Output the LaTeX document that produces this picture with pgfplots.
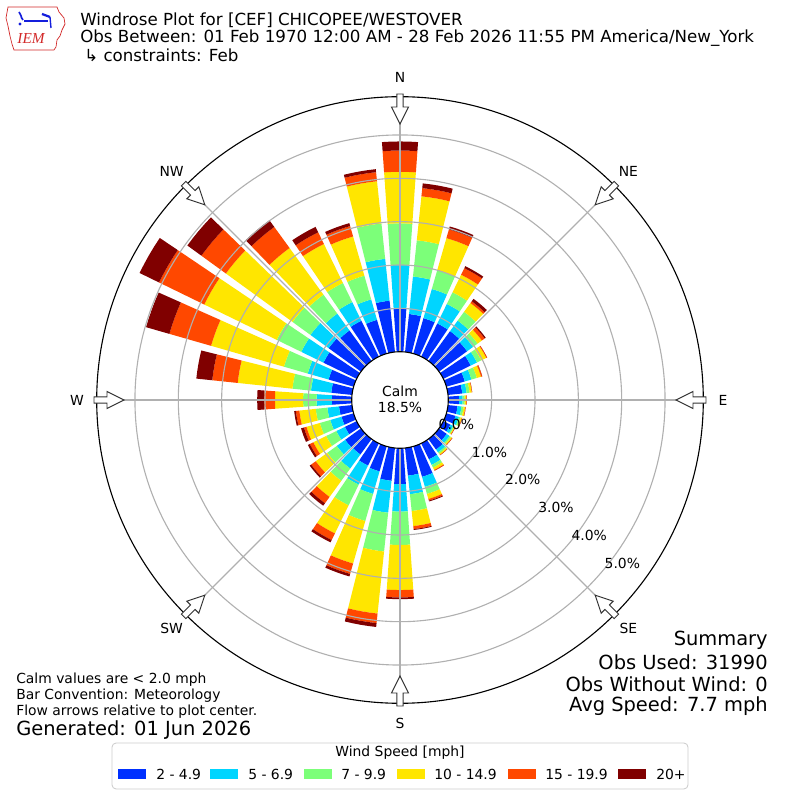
\documentclass[border=0pt]{standalone}
\usepackage{fontspec}
\setmainfont{DejaVu Sans}
\newfontfamily\logofont{Liberation Serif}
\usepackage{pgfplots}
\usepackage{pgfplotstable}
\pgfplotsset{compat=1.18}
\definecolor{c1}{RGB}{0,48,255}
\definecolor{c2}{RGB}{0,213,255}
\definecolor{c3}{RGB}{124,255,121}
\definecolor{c4}{RGB}{255,230,0}
\definecolor{c5}{RGB}{255,72,0}
\definecolor{c6}{RGB}{128,0,0}
\definecolor{gridc}{RGB}{176,176,176}
\definecolor{iemred}{RGB}{210,40,40}
\definecolor{iemblue}{RGB}{20,30,220}

% cumulative percent of observations, per direction, per speed bin
\pgfplotstableread{
dir a b c d e f
0   1.00 2.00 2.96 4.15 4.64 4.85
10  0.88 1.75 2.59 3.61 3.80 3.91
20  0.85 1.55 2.00 2.77 2.98 3.05
30  0.85 1.35 1.65 2.10 2.27 2.32
40  0.85 1.15 1.40 1.65 1.70 1.77
50  0.80 0.97 1.10 1.22 1.30 1.33
60  0.70 0.86 0.97 1.10 1.12 1.12
70  0.44 0.60 0.73 0.83 0.86 0.86
80  0.33 0.43 0.50 0.55 0.56 0.56
90  0.25 0.33 0.38 0.42 0.43 0.43
100 0.22 0.31 0.36 0.40 0.41 0.41
110 0.22 0.30 0.34 0.37 0.38 0.38
120 0.18 0.25 0.28 0.30 0.31 0.31
130 0.22 0.30 0.34 0.37 0.38 0.38
140 0.30 0.38 0.42 0.45 0.46 0.46
150 0.41 0.55 0.62 0.68 0.70 0.70
160 0.73 0.97 1.14 1.26 1.30 1.32
170 0.64 1.07 1.46 1.81 1.88 1.90
180 0.83 1.46 2.23 3.27 3.44 3.48
190 0.76 1.50 2.40 3.84 4.06 4.15
200 0.60 1.14 1.79 2.81 3.06 3.12
210 0.57 1.06 1.59 2.31 2.48 2.54
220 0.44 0.84 1.19 1.65 1.83 1.90
230 0.45 0.69 0.96 1.29 1.42 1.46
240 0.30 0.52 0.78 1.11 1.20 1.25
250 0.29 0.56 0.81 1.13 1.19 1.26
260 0.30 0.57 0.84 1.22 1.30 1.34
270 0.46 0.81 1.12 1.77 2.02 2.18
280 0.48 0.95 1.38 2.65 3.24 3.61
290 0.60 1.10 1.67 3.42 4.42 4.98
300 0.85 1.42 2.05 3.91 5.07 5.57
310 0.92 1.44 1.95 3.85 4.55 4.95
320 0.87 1.35 1.89 3.22 3.82 4.01
330 0.92 1.40 1.89 2.89 3.19 3.33
340 0.81 1.30 1.87 2.81 3.06 3.13
350 1.19 2.16 2.98 3.96 4.17 4.24
}\rosedata

\newcommand\mkpt[4]{\pgfmathsetmacro#1{400+(#3)*sin(#4)}\pgfmathsetmacro#2{400-(#3)*cos(#4)}}

\begin{document}
\begin{tikzpicture}
\begin{axis}[x=0.72pt,y=0.72pt,xmin=0,xmax=800,ymin=0,ymax=800,y dir=reverse,hide axis]
\foreach \i in {0,...,35}{%
  \pgfplotstablegetelem{\i}{dir}\of\rosedata
  \let\dirv=\pgfplotsretval
  \xdef\prevv{0}%
  \foreach \col/\clr in {a/c1,b/c2,c/c3,d/c4,e/c5,f/c6}{%
    \pgfplotstablegetelem{\i}{\col}\of\rosedata
    \let\curv=\pgfplotsretval
    \pgfmathsetmacro\ra{48.3+43.35*\prevv}%
    \pgfmathsetmacro\rb{48.3+43.35*\curv}%
    \mkpt\xA\yA\rb{\dirv-4}\mkpt\xB\yB\rb{\dirv-2}\mkpt\xC\yC\rb{\dirv}%
    \mkpt\xD\yD\rb{\dirv+2}\mkpt\xE\yE\rb{\dirv+4}%
    \mkpt\xF\yF\ra{\dirv+4}\mkpt\xG\yG\ra{\dirv+2}\mkpt\xH\yH\ra{\dirv}%
    \mkpt\xI\yI\ra{\dirv-2}\mkpt\xJ\yJ\ra{\dirv-4}%
    \edef\cmd{\noexpand\addplot[draw=none,fill=\clr] coordinates {(\xA,\yA) (\xB,\yB) (\xC,\yC) (\xD,\yD) (\xE,\yE) (\xF,\yF) (\xG,\yG) (\xH,\yH) (\xI,\yI) (\xJ,\yJ)} -- cycle;}%
    \cmd
    \xdef\prevv{\curv}%
  }%
}
\coordinate (O) at (axis cs:0,0);
\end{axis}
\begin{scope}[shift={(O)},x=0.72pt,y=-0.72pt]
\path (0,0) rectangle (800,800);
% grid
\foreach \k in {1,...,5}{\pgfmathsetmacro\rr{48.3+43.35*\k}\draw[gridc,line width=0.8pt] (400,400) circle[radius=\rr];}
\foreach \b in {0,45,...,315}{\draw[gridc,line width=0.8pt] ({400+48.3*sin(\b)},{400-48.3*cos(\b)}) -- ({400+303.3*sin(\b)},{400-303.3*cos(\b)});}
\draw[black,line width=0.8pt,fill=white] (400,400) circle[radius=48.3];
\draw[black,line width=0.8pt] (400,400) circle[radius=303.3];
% arrows
\foreach \b in {0,45,...,315}{%
\draw[fill=white,draw=black!80,line width=0.7pt,line join=miter]
 ({400+276*sin(\b)},{400-276*cos(\b)})
 -- ({400+293*sin(\b)+8.5*cos(\b)},{400-293*cos(\b)+8.5*sin(\b)})
 -- ({400+293*sin(\b)+3.2*cos(\b)},{400-293*cos(\b)+3.2*sin(\b)})
 -- ({400+306*sin(\b)+3.2*cos(\b)},{400-306*cos(\b)+3.2*sin(\b)})
 -- ({400+306*sin(\b)-3.2*cos(\b)},{400-306*cos(\b)-3.2*sin(\b)})
 -- ({400+293*sin(\b)-3.2*cos(\b)},{400-293*cos(\b)-3.2*sin(\b)})
 -- ({400+293*sin(\b)-8.5*cos(\b)},{400-293*cos(\b)-8.5*sin(\b)})
 -- cycle;}
% direction labels
\foreach \b/\l in {0/N,45/NE,90/E,135/SE,180/S,225/SW,270/W,315/NW}{%
\node[font=\fontsize{10}{12}\selectfont] at ({400+323*sin(\b)},{400-323*cos(\b)}) {\l};}
% radial labels
\foreach \k in {0,...,5}{\pgfmathsetmacro\rr{48.3+43.35*\k}%
\node[anchor=south west,inner sep=1pt,font=\fontsize{10}{12}\selectfont] at ({400+\rr*sin(130)},{400-\rr*cos(130)}) {\k.0\%};}
\node[font=\fontsize{10}{12}\selectfont] at (400,391) {Calm};
\node[font=\fontsize{10}{12}\selectfont] at (400,407) {18.5\%};
% logo
\draw[iemred,line width=0.5pt] (8,7) -- (57,7) -- (59,12) -- (64,18) -- (65,24) -- (62,30) -- (60,36) -- (57,40) -- (56,47) -- (54,50) -- (14,50) -- (12,44) -- (10,36) -- (8,26) -- (6,18) -- cycle;
\draw[iemblue,line width=1.6pt] (24,21) -- (48,21);
\draw[iemblue,line width=1.2pt] (19,12) .. controls (22,14) and (20,17) .. (23,20);
\fill[iemblue] (20,24) circle[radius=1.6];
\draw[iemblue,line width=1.6pt] (42,14) -- (50,17);
\draw[iemblue,line width=1.0pt] (50,17) -- (51,28);
\node[text=iemred,font=\logofont\itshape\fontsize{11}{12}\selectfont,inner sep=0] at (31,39) {IEM};
% title
\node[anchor=west,inner sep=0,font=\fontsize{12}{14}\selectfont] at (80,20) {Windrose Plot for [CEF] CHICOPEE/WESTOVER};
\node[anchor=west,inner sep=0,font=\fontsize{12}{14}\selectfont] at (80,38) {Obs Between: 01 Feb 1970 12:00 AM - 28 Feb 2026 11:55 PM America/New\_York};
\node[anchor=west,inner sep=0,font=\fontsize{12}{14}\selectfont] at (84,55) {↳ constraints: Feb};
% bottom left
\node[anchor=west,inner sep=0,font=\fontsize{10}{12}\selectfont] at (16,680) {Calm values are < 2.0 mph};
\node[anchor=west,inner sep=0,font=\fontsize{10}{12}\selectfont] at (16,696) {Bar Convention: Meteorology};
\node[anchor=west,inner sep=0,font=\fontsize{10}{12}\selectfont] at (16,712) {Flow arrows relative to plot center.};
\node[anchor=west,inner sep=0,font=\fontsize{14}{16}\selectfont] at (16,730) {Generated: 01 Jun 2026};
% summary
\node[anchor=east,inner sep=0,font=\fontsize{14}{16}\selectfont] at (768,640) {Summary};
\node[anchor=east,inner sep=0,font=\fontsize{14}{16}\selectfont] at (768,662) {Obs Used: 31990};
\node[anchor=east,inner sep=0,font=\fontsize{14}{16}\selectfont] at (768,684) {Obs Without Wind: 0};
\node[anchor=east,inner sep=0,font=\fontsize{14}{16}\selectfont] at (768,706) {Avg Speed: 7.7 mph};
% legend
\draw[rounded corners=3pt,draw=black!20,fill=white,line width=0.6pt] (112,743) rectangle (688,789);
\node[font=\fontsize{10}{12}\selectfont] at (400,753) {Wind Speed [mph]};
\foreach \x/\c/\t/\tx in {118/c1/2 - 4.9/156, 210/c2/5 - 6.9/248, 304/c3/7 - 9.9/341, 397/c4/10 - 14.9/434, 508/c5/15 - 19.9/545, 618/c6/20+/656}{%
\fill[\c] (\x,769) rectangle ({\x+28},779);
\node[anchor=west,inner sep=0,font=\fontsize{10}{12}\selectfont] at (\tx,774) {\t};}
\end{scope}
\end{tikzpicture}
\end{document}
